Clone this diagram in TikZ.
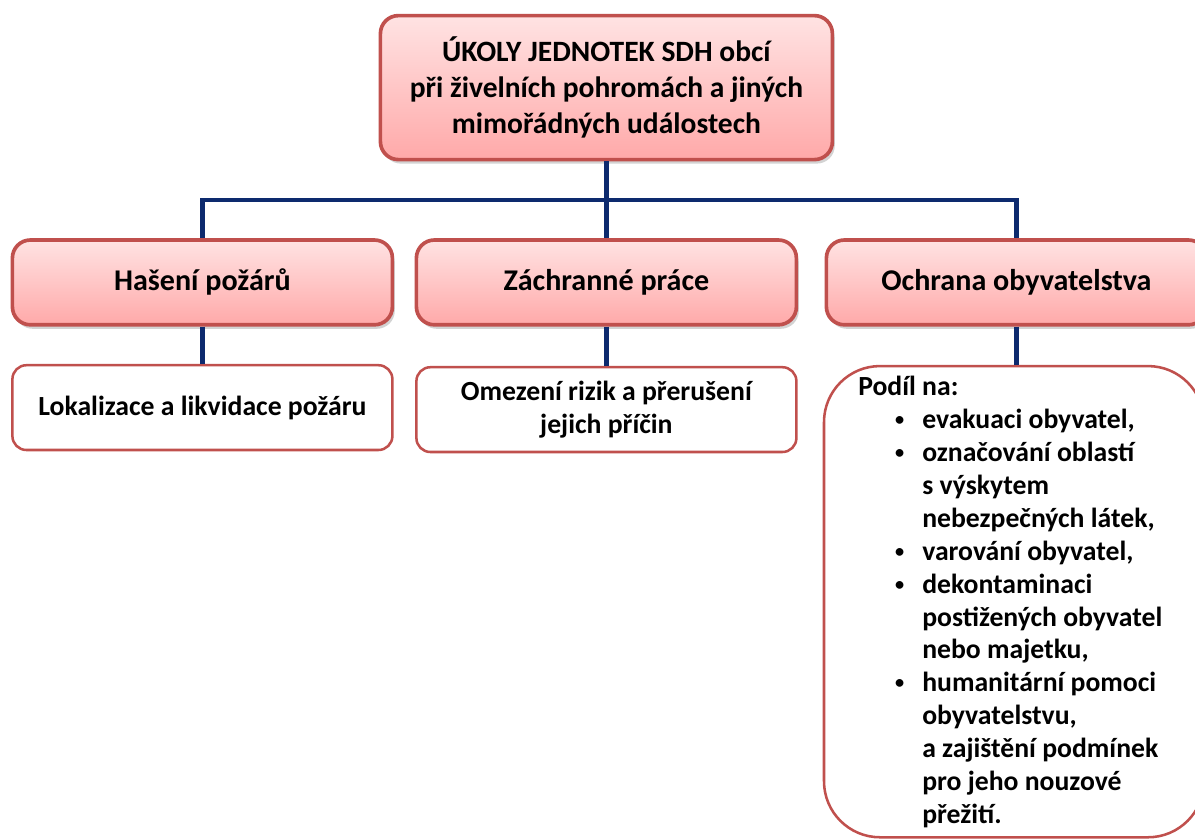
\documentclass[tikz,border=0pt]{standalone}
\usepackage{fontspec}
\setmainfont{Carlito}
\usetikzlibrary{positioning,shadows}

\definecolor{boxred}{HTML}{C0504D}
\definecolor{pinktop}{HTML}{FFE3E3}
\definecolor{pinkbot}{HTML}{FFA9A9}
\definecolor{linenavy}{HTML}{0D2A6E}

\newcommand{\dotitem}{\hspace*{0.92cm}\makebox[0.68cm][l]{\raisebox{2.2pt}{\fontsize{13}{13}\selectfont•}}}
\newcommand{\dotcont}{\hspace*{1.6cm}}

\begin{document}
\begin{tikzpicture}[node distance = 5.05cm and 10.1cm, on grid,
	font=\bfseries\fontsize{21.4}{25}\selectfont,
	head/.style ={draw=boxred, line width=2.6pt, rounded corners=0.45cm, top color=pinktop, bottom color=pinkbot,
		drop shadow={opacity=0.35, shadow xshift=0.06cm, shadow yshift=-0.1cm}, align=center},
	task/.style ={draw=boxred, line width=1.8pt, rounded corners=0.35cm, fill=white, align=center,
		minimum width=9.5cm, minimum height=2.12cm, font=\bfseries\fontsize{19.7}{24}\selectfont},
	link/.style ={draw=linenavy, line width=3.2pt}]
	\useasboundingbox (0,0) rectangle (29.875,-20.975);

	% main box
	\node[head, minimum width=11.3cm, minimum height=3.6cm, font=\bfseries\fontsize{21}{25.5}\selectfont]
		(main) at (15.16,-2.19)
		{ÚKOLY JEDNOTEK SDH obcí\\při živelních pohromách a jiných\\mimořádných událostech};

	% second level
	\node[head, minimum width=9.5cm, minimum height=2.12cm] (fire) at (5.06,-7.06) {Hašení požárů};
	\node[head, minimum width=9.5cm, minimum height=2.12cm] (rescue) [right = of fire] {Záchranné práce};
	\node[head, minimum width=9.5cm, minimum height=2.12cm] (protect) [right = 10.25cm of rescue] {Ochrana obyvatelstva};

	% third level
	\node[task] (firetask) [below = 3.13cm of fire] {Lokalizace a likvidace požáru};
	\node[task] (rescuetask) [below = 3.18cm of rescue] {Omezení rizik a přerušení\\jejich příčin};
	\node[task, rounded corners=1.4cm, minimum height=11.78cm, anchor=north] (protecttask) at (25.35,-9.12) {};
	\node[anchor=north west, align=left, inner sep=0pt, font=\bfseries\fontsize{19.7}{23.4}\selectfont]
		(protecttext) at (21.45,-9.4)
		{Podíl na:\\
		\dotitem evakuaci obyvatel,\\
		\dotitem označování oblastí\\
		\dotcont s výskytem\\
		\dotcont nebezpečných látek,\\
		\dotitem varování obyvatel,\\
		\dotitem dekontaminaci\\
		\dotcont postižených obyvatel\\
		\dotcont nebo majetku,\\
		\dotitem humanitární pomoci\\
		\dotcont obyvatelstvu,\\
		\dotcont a zajištění podmínek\\
		\dotcont pro jeho nouzové\\
		\dotcont přežití.};

	% connectors
	\coordinate (bus) at (0,-5);
	\draw[link] (main.south) -- (main.south |- bus);
	\draw[link] (fire.north) |- (protect.north |- bus) -- (protect.north);
	\draw[link] (rescue.north) -- (rescue.north |- bus);
	\draw[link] (fire.south) -- (firetask.north);
	\draw[link] (rescue.south) -- (rescuetask.north);
	\draw[link] (protect.south) -- (protect.south |- protecttask.north);
\end{tikzpicture}
\end{document}
